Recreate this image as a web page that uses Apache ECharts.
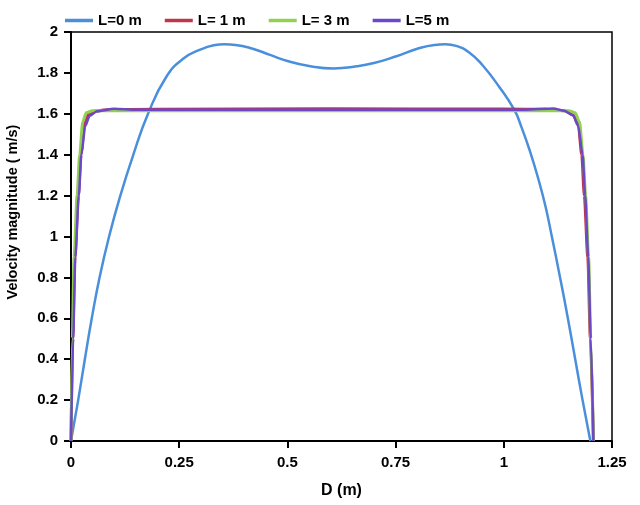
<!DOCTYPE html>
<html>
<head>
<meta charset="utf-8">
<script src="https://cdn.jsdelivr.net/npm/echarts@6/dist/echarts.min.js"></script>
<style>
  html, body { margin: 0; padding: 0; background: #fff; }
  #chart { width: 640px; height: 505px; }
</style>
</head>
<body>
<div id="chart"></div>
<script>
// 图例名称
const seriesNames = ['L=0 m', 'L= 1 m', 'L= 3 m', 'L=5 m'];

// L=0 m
const dL0 = [0, 0.0166, 0.032, 0.048, 0.066, 0.088, 0.114, 0.144, 0.178, 0.22, 0.26, 0.30, 0.33, 0.355, 0.38, 0.42, 0.46, 0.50, 0.55, 0.607,
             0.66, 0.70, 0.75, 0.80, 0.84, 0.865, 0.89, 0.92, 0.95, 0.99, 1.024, 1.04, 1.06, 1.08, 1.096, 1.111, 1.13, 1.148, 1.165, 1.182, 1.2];
const vL0 = [0, 0.2, 0.4, 0.6, 0.8, 1.0, 1.2, 1.4, 1.6, 1.78, 1.87, 1.915, 1.935, 1.94, 1.937, 1.918, 1.888, 1.858, 1.834, 1.822,
             1.832, 1.848, 1.88, 1.918, 1.937, 1.94, 1.932, 1.9, 1.84, 1.73, 1.62, 1.54, 1.42, 1.28, 1.15, 1.0, 0.8, 0.6, 0.4, 0.2, 0];

// L=1 m
const dL1 = [0, 0.004, 0.009, 0.017, 0.023, 0.031, 0.04, 0.055, 0.08, 0.2, 0.6, 1.0, 1.1, 1.14, 1.16, 1.172, 1.18, 1.186, 1.194, 1.2, 1.207];
const vL1 = [0, 0.5, 0.9, 1.2, 1.4, 1.55, 1.595, 1.612, 1.62, 1.622, 1.625, 1.623, 1.622, 1.615, 1.595, 1.55, 1.4, 1.2, 0.9, 0.5, 0];

// L=3 m
const dL3 = [0, 0.003, 0.007, 0.014, 0.02, 0.027, 0.035, 0.05, 0.6, 1.15, 1.165, 1.175, 1.183, 1.189, 1.196, 1.201, 1.207];
const vL3 = [0, 0.5, 0.9, 1.2, 1.4, 1.56, 1.605, 1.615, 1.615, 1.615, 1.605, 1.56, 1.4, 1.2, 0.9, 0.5, 0];

// L=5 m
const dL5 = [0, 0.005, 0.01, 0.018, 0.024, 0.033, 0.043, 0.06, 0.1, 0.15, 0.6, 1.05, 1.114, 1.14, 1.16, 1.172, 1.182, 1.188, 1.195, 1.201, 1.207];
const vL5 = [0, 0.5, 0.9, 1.2, 1.4, 1.54, 1.59, 1.612, 1.625, 1.62, 1.62, 1.62, 1.626, 1.615, 1.592, 1.54, 1.4, 1.2, 0.9, 0.5, 0];

const colors = ['#4a8fdc', '#c0354a', '#92d050', '#6a48c8'];
const widths = [2.5, 3, 3, 2.5];

function zip(xs, ys) {
    return xs.map(function (x, i) { return [x, ys[i]]; });
}

const allData = [zip(dL0, vL0), zip(dL1, vL1), zip(dL3, vL3), zip(dL5, vL5)];

const myChart = echarts.init(document.getElementById('chart'));

const fontBold = {
    fontFamily: 'Liberation Sans, Arial, sans-serif',
    fontWeight: 'bold',
    fontSize: 15,
    color: '#000'
};

const option = {
    backgroundColor: '#fff',
    animation: false,
    legend: {
        top: 8,
        left: 60,
        itemWidth: 28,
        itemHeight: 3.5,
        itemGap: 23,
        textStyle: fontBold,
        data: seriesNames.map(function (n) { return { name: n, icon: 'rect' }; })
    },
    // y轴标题单独放置（原图中偏上）
    graphic: [{
        type: 'text',
        x: 13,
        y: 212,
        rotation: Math.PI / 2,
        style: {
            text: 'Velocity magnitude ( m/s)',
            fontFamily: 'Liberation Sans Narrow, Arial Narrow, Liberation Sans, sans-serif',
            fontWeight: 'bold',
            fontSize: 14.5,
            fill: '#000',
            align: 'center',
            verticalAlign: 'middle'
        }
    }],
    grid: {
        left: 71,
        right: 28,
        top: 32,
        bottom: 64,
        outerBoundsMode: 'none',
        show: true,
        borderColor: '#000',
        borderWidth: 1.5
    },
    xAxis: {
        type: 'value',
        min: 0,
        max: 1.25,
        interval: 0.25,
        name: 'D (m)',
        nameLocation: 'middle',
        nameGap: 42,
        nameTextStyle: Object.assign({}, fontBold, { fontSize: 16 }),
        axisLine: { onZero: false, lineStyle: { color: '#000', width: 2 } },
        axisTick: { show: true, length: 7, lineStyle: { color: '#000', width: 2 } },
        axisLabel: Object.assign({ margin: 14 }, fontBold),
        splitLine: { show: false }
    },
    yAxis: {
        type: 'value',
        min: 0,
        max: 2,
        interval: 0.2,
        axisLine: { show: true, lineStyle: { color: '#000', width: 2 } },
        axisTick: { show: true, length: 7, lineStyle: { color: '#000', width: 2 } },
        axisLabel: Object.assign({ margin: 13 }, fontBold),
        splitLine: { show: false }
    },
    series: seriesNames.map(function (name, i) {
        return {
            name: name,
            type: 'line',
            data: allData[i],
            symbol: 'none',
            smooth: i === 0 ? 0.5 : 0.25,
            smoothMonotone: i === 0 ? null : 'x',
            color: colors[i],
            lineStyle: { color: colors[i], width: widths[i] },
            z: 2 + i
        };
    })
};

myChart.setOption(option);
</script>
</body>
</html>
